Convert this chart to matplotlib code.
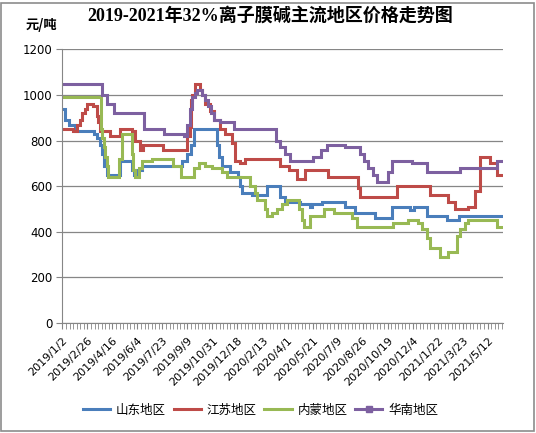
import numpy as np
import matplotlib
matplotlib.use('Agg')
import matplotlib.pyplot as plt
from matplotlib.patches import Rectangle

plt.rcParams['font.family'] = ['DejaVu Sans', 'Noto Sans CJK SC']

# day index (working days since 2019/1/2) where the price changes, and the new price
sd_x = [0, 4, 9, 18, 44, 48, 53, 55, 58, 62, 80, 97, 100, 104, 111, 167, 174, 180, 184,
        216, 219, 223, 235, 246, 249, 251, 265, 286, 305, 312, 333, 347, 349, 363, 396,
        410, 438, 461, 487, 492, 510, 538, 555]
sd_y = [940, 890, 870, 840, 830, 810, 780, 740, 690, 650, 710, 670, 650, 670, 690, 710, 740, 780, 850,
        780, 730, 690, 660, 640, 600, 570, 560, 600, 550, 530, 520, 510, 520, 530, 510,
        480, 460, 510, 495, 510, 470, 450, 470]

js_x = [0, 15, 21, 25, 28, 31, 34, 43, 48, 50, 53, 66, 80, 98, 101, 108, 113, 141, 175, 178,
        180, 182, 185, 192, 196, 200, 207, 212, 221, 228, 237, 242, 249, 255, 305, 317, 328,
        340, 372, 413, 417, 468, 515, 540, 550, 567, 577, 585, 598, 608]
js_y = [850, 840, 870, 890, 920, 940, 960, 950, 910, 880, 840, 820, 850, 840, 800, 760, 780, 760, 820, 860,
        980, 1000, 1050, 1020, 1000, 960, 930, 890, 850, 830, 790, 710, 700, 720, 690, 670, 630,
        670, 640, 590, 550, 600, 560, 530, 500, 510, 580, 730, 700, 650]

nm_x = [0, 54, 56, 58, 60, 62, 64, 79, 83, 97, 99, 101, 107, 111, 125, 155, 166, 184, 191, 200,
        210, 223, 230, 263, 270, 273, 284, 286, 293, 300, 307, 314, 331, 335, 338, 347, 366,
        380, 405, 412, 463, 484, 498, 503, 510, 515, 529, 540, 552, 557, 564, 568, 608]
nm_y = [990, 850, 810, 770, 730, 690, 640, 720, 830, 740, 670, 640, 680, 710, 720, 690, 640, 680, 700, 690,
        680, 660, 640, 600, 570, 540, 500, 470, 480, 500, 520, 540, 500, 450, 420, 470, 500,
        480, 460, 420, 440, 450, 440, 410, 370, 330, 290, 310, 380, 410, 440, 450, 420]

hn_x = [0, 55, 62, 72, 114, 142, 170, 175, 178, 181, 185, 188, 196, 200, 204, 208, 212, 220,
        240, 299, 305, 312, 318, 350, 362, 370, 396, 417, 422, 428, 434, 440, 456, 461, 489,
        510, 557, 608]
hn_y = [1050, 1000, 960, 920, 850, 830, 820, 870, 940, 990, 1010, 1020, 1000, 980, 950, 920, 890, 880,
        850, 800, 770, 740, 710, 730, 760, 780, 770, 740, 710, 680, 650, 620, 660, 710, 700,
        660, 680, 710]

n_days = 617
x_labels = ['2019/1/2', '2019/2/26', '2019/4/16', '2019/6/4', '2019/7/23', '2019/9/9',
            '2019/10/31', '2019/12/18', '2020/2/13', '2020/4/1', '2020/5/21', '2020/7/9',
            '2020/8/26', '2020/10/19', '2020/12/4', '2021/1/22', '2021/3/23', '2021/5/12']
names = ['山东地区', '江苏地区', '内蒙地区', '华南地区']
colors = ['#4A7EBB', '#BE4B48', '#98B954', '#7D60A0']

fig = plt.figure(figsize=(5.36, 4.33), dpi=100)
ax = fig.add_axes([0.1157, 0.2547, 0.8227, 0.631])

series = [(sd_x, sd_y), (js_x, js_y), (nm_x, nm_y), (hn_x, hn_y)]
handles = []
for (xs, ys), name, c in zip(series, names, colors):
    xx = list(xs) + [n_days - 1]
    yy = list(ys) + [ys[-1]]
    ax.step(xx, yy, where='post', color=c, lw=2.2, solid_joinstyle='miter')
    mk = 's' if name == '华南地区' else None
    h, = ax.plot([], [], color=c, lw=2.2, marker=mk, markersize=4.5)
    handles.append(h)

ax.set_xlim(-0.5, n_days - 0.5)
ax.set_ylim(0, 1200)
ax.set_yticks(np.arange(0, 1201, 200))
ax.set_xticks(np.arange(len(x_labels)) * 35)
ax.set_xticklabels(x_labels, rotation=45, ha='right', va='top', rotation_mode='anchor', fontsize=8)
ax.set_xticks(np.arange(0, n_days, 5), minor=True)
ax.tick_params(axis='y', labelsize=8.5, length=4, color='#868686', pad=3)
ax.tick_params(axis='x', which='both', length=4, color='#868686', pad=5)
ax.grid(axis='y', color='#868686', lw=0.9)
ax.set_axisbelow(True)
for s in ['top', 'right']:
    ax.spines[s].set_visible(False)
for s in ['left', 'bottom']:
    ax.spines[s].set_color('#868686')

fig.text(0.504, 0.963, '2019-2021年32%离子膜碱主流地区价格走势图', ha='center', va='center',
         fontsize=13, fontweight='bold', family=['Liberation Serif', 'Noto Sans CJK SC'])
fig.text(0.047, 0.942, '元/吨', ha='left', va='center', fontsize=9.5, fontweight='bold',
         family=['Noto Sans CJK SC', 'DejaVu Sans'])

fig.legend(handles, names, loc='center', bbox_to_anchor=(0.486, 0.053), ncol=4, frameon=False,
           prop={'family': ['Noto Sans CJK SC', 'DejaVu Sans'], 'size': 9},
           handlelength=2.2, handletextpad=0.45, columnspacing=0.6)

fig.patches.append(Rectangle((0.002, 0.004), 0.994, 0.99, transform=fig.transFigure,
                             fill=False, ec='#8c8c8c', lw=1.2))

fig.savefig('out.png', dpi=100)
